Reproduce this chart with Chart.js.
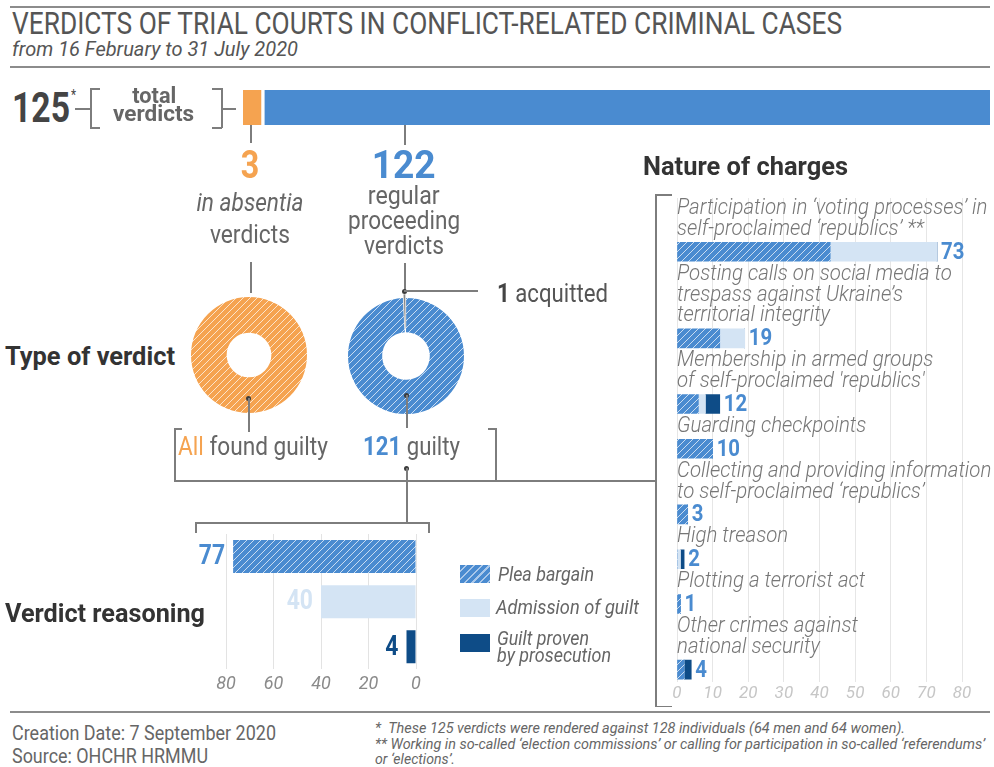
<!DOCTYPE html>
<html>
<head>
<meta charset="utf-8">
<script src="https://cdn.jsdelivr.net/npm/chart.js@4.4.1/dist/chart.umd.min.js"></script>
<style>
  html, body { margin: 0; padding: 0; background: #fff; }
  #page { position: relative; width: 994px; height: 767px; overflow: hidden; font-family: Roboto, sans-serif; }
  .tx { position: absolute; white-space: nowrap; line-height: 1; }
  .tx .in { display: inline-block; }
  .ln { position: absolute; background: #7d7d7d; }
  .rule { position: absolute; background: #8c8c8c; }
  .dot { position: absolute; width: 5px; height: 5px; border-radius: 50%; background: #3c3c3c; }
  .box { position: absolute; }
  .sw { position: absolute; width: 30px; height: 18px; }
</style>
</head>
<body>
<div id="page">
  <div class="box" style="left:243px;top:90px;width:747px;height:35px"><canvas id="totalChart"></canvas></div>
  <div class="box" style="left:179px;top:285px;width:140px;height:140px"><canvas id="absentiaChart"></canvas></div>
  <div class="box" style="left:336px;top:286px;width:140px;height:140px"><canvas id="regularChart"></canvas></div>
  <div class="box" style="left:190px;top:520px;width:250px;height:185px"><canvas id="reasonChart"></canvas></div>
  <div class="box" style="left:660px;top:185px;width:334px;height:525px"><canvas id="chargeChart"></canvas></div>
</div>
<script>
// ---- data ----
const verdictTypes = ['in absentia', 'regular proceeding'];
const verdictCounts = [3, 122];

const absentiaOutcome = [3];        // all found guilty
const regularOutcome = [121, 1];    // guilty, acquitted

const reasonLabels = ['Plea bargain', 'Admission of guilt', 'Guilt proven by prosecution'];
const reasonValues = [77, 40, 4];
const reasonTicks = [0, 20, 40, 60, 80];

const chargeLabels = [
    ['Participation in \u2018voting processes\u2019 in', 'self-proclaimed \u2018republics\u2019 **'],
    ['Posting calls on social media to', 'trespass against Ukraine\u2019s', 'territorial integrity'],
    ['Membership in armed groups', 'of self-proclaimed \'republics\''],
    ['Guarding checkpoints'],
    ['Collecting and providing information', 'to self-proclaimed \u2018republics\u2019'],
    ['High treason'],
    ['Plotting a terrorist act'],
    ['Other crimes against', 'national security']
];
const pleaByCharge = [43, 12, 6, 10, 3, 0, 1, 2];
const admissionByCharge = [30, 7, 2, 0, 0, 1, 0, 0];
const prosecutionByCharge = [0, 0, 4, 0, 0, 1, 0, 2];
const chargeTicks = [0, 10, 20, 30, 40, 50, 60, 70, 80];

// ---- colours ----
const BLUE = '#4a8bd0';
const ORANGE = '#f5a350';
const LIGHT = '#d4e4f4';
const DARK = '#0e4c87';

Chart.defaults.font.family = 'Roboto';

const page = document.getElementById('page');

// hatched fill like the original
function hatch(color, step) {
    const c = document.createElement('canvas');
    c.width = step; c.height = step;
    const g = c.getContext('2d');
    g.fillStyle = color;
    g.fillRect(0, 0, step, step);
    g.strokeStyle = 'rgba(255,255,255,0.7)';
    g.lineWidth = 1;
    g.beginPath();
    g.moveTo(-1, step + 1); g.lineTo(step + 1, -1);
    g.moveTo(-1, 1); g.lineTo(1, -1);
    g.moveTo(step - 1, step + 1); g.lineTo(step + 1, step - 1);
    g.stroke();
    return g.createPattern(c, 'repeat');
}
const bluePattern = hatch(BLUE, 7);
const orangePattern = hatch(ORANGE, 7);

// condensed canvas text
function squeeze(ctx, text, x, y, sx) {
    ctx.save();
    ctx.translate(x, y);
    ctx.scale(sx, 1);
    ctx.fillText(text, 0, 0);
    ctx.restore();
}

// html text, squeezed to a width
function put(html, x, base, size, opts = {}) {
    const d = document.createElement('div');
    d.className = 'tx';
    d.style.fontSize = size + 'px';
    d.style.top = (base - 0.84 * size) + 'px';
    d.style.color = opts.color || '#666';
    if (opts.weight) d.style.fontWeight = opts.weight;
    if (opts.italic) d.style.fontStyle = 'italic';
    const s = document.createElement('span');
    s.className = 'in';
    s.innerHTML = html;
    d.appendChild(s);
    const align = opts.align || 'left';
    if (align === 'center') {
        d.style.left = (x - 300) + 'px'; d.style.width = '600px'; d.style.textAlign = 'center';
        s.style.transformOrigin = '50% 0';
    } else if (align === 'right') {
        d.style.left = (x - 600) + 'px'; d.style.width = '600px'; d.style.textAlign = 'right';
        s.style.transformOrigin = '100% 0';
    } else {
        d.style.left = x + 'px';
        s.style.transformOrigin = '0 0';
    }
    page.appendChild(d);
    const sx = opts.w ? opts.w / s.getBoundingClientRect().width : (opts.sx || 0.84);
    s.style.transform = 'scaleX(' + sx + ')';
}

function line(x, y, w, h, cls) {
    const d = document.createElement('div');
    d.className = cls || 'ln';
    d.style.left = x + 'px'; d.style.top = y + 'px';
    d.style.width = w + 'px'; d.style.height = h + 'px';
    page.appendChild(d);
}
const hline = (x1, x2, y) => line(x1, y, x2 - x1, 1.5);
const vline = (x, y1, y2) => line(x, y1, 1.5, y2 - y1);
function dot(x, y) {
    const d = document.createElement('div');
    d.className = 'dot';
    d.style.left = (x - 2.5) + 'px'; d.style.top = (y - 2.5) + 'px';
    page.appendChild(d);
}

// ---- header & footer ----
line(10, 6, 980, 2, 'rule');
line(10, 66, 980, 2, 'rule');
line(10, 711, 980, 2, 'rule');
put('VERDICTS OF TRIAL COURTS IN CONFLICT-RELATED CRIMINAL CASES', 12, 34, 31, { color: '#555', w: 830 });
put('from 16 February to 31 July 2020', 12, 57, 21, { color: '#555', italic: true, w: 286 });

put('Creation Date: 7 September 2020', 12, 740, 20, { w: 264 });
put('Source: OHCHR HRMMU', 12, 763, 20, { w: 196 });
put('*&nbsp;&nbsp;These 125 verdicts were rendered against 128 individuals (64 men and 64 women).', 375, 734, 15, { italic: true, w: 530 });
put('** Working in so-called \u2018election commissions\u2019 or calling for participation in so-called \u2018referendums\u2019', 375, 750, 15, { italic: true, w: 610 });
put('or \u2018elections\u2019.', 375, 765, 15, { italic: true, w: 80 });

// ---- total verdicts ----
put('125', 12, 122, 42, { color: '#444', weight: 700, w: 58 });
put('*', 71, 100, 14, { color: '#444' });
hline(75, 90, 108);
vline(90, 88, 128); hline(90, 100, 88); hline(90, 100, 127);
vline(221, 88, 128); hline(212, 222, 88); hline(212, 222, 127);
hline(222, 236, 108);
put('total', 154, 103, 22, { color: '#666', weight: 700, align: 'center', w: 44 });
put('verdicts', 154, 121, 22, { color: '#666', weight: 700, align: 'center', w: 81 });

vline(250, 125, 143);
vline(404, 125, 145);
put(String(verdictCounts[0]), 250, 178, 38, { color: ORANGE, weight: 700, align: 'center', sx: 0.85 });
put('in absentia', 250, 211, 25, { italic: true, align: 'center', w: 107 });
put('verdicts', 250, 243, 25, { align: 'center', w: 80 });
put(String(verdictCounts[1]), 404, 178, 38, { color: BLUE, weight: 700, align: 'center', w: 64 });
put('regular', 404, 204, 25, { align: 'center', w: 72 });
put('proceeding', 404, 229, 25, { align: 'center', w: 112 });
put('verdicts', 404, 254, 25, { align: 'center', w: 80 });

// ---- type of verdict ----
put('Type of verdict', 5, 365, 26, { color: '#333', weight: 700, w: 170 });
vline(250, 262, 293);
vline(404, 263, 291);
dot(404, 291);
hline(404, 478, 290);
put('<b style="color:#444">1</b> acquitted', 497, 302, 25, { color: '#555', w: 111 });

dot(248, 398); vline(248, 398, 432);
dot(406, 395); vline(406, 395, 428);
put('<span style="color:' + ORANGE + '">All</span> found guilty', 178, 455, 26, { w: 150 });
put('<b style="color:' + BLUE + '">121</b> guilty', 363, 455, 26, { w: 97 });
vline(174, 428, 481); hline(174, 182, 428);
vline(495, 428, 481); hline(488, 496, 428);
hline(174, 656, 480);
dot(406, 468); vline(406, 468, 522);

// ---- verdict reasoning ----
put('Verdict reasoning', 5, 622, 26, { color: '#333', weight: 700, w: 200 });
hline(195, 429, 522);
vline(195, 522, 533); vline(428, 522, 533);

const swatches = ['repeating-linear-gradient(135deg, ' + BLUE + ' 0 4px, #aac8ea 4px 5.5px)', LIGHT, DARK];
[565, 599, 634].forEach((y, i) => {
    const s = document.createElement('div');
    s.className = 'sw';
    s.style.left = '460px'; s.style.top = y + 'px';
    s.style.background = swatches[i];
    page.appendChild(s);
});
put(reasonLabels[0], 498, 581, 20, { italic: true, w: 96 });
put(reasonLabels[1], 496, 614, 20, { italic: true, w: 143 });
put('Guilt proven', 497, 645, 20, { italic: true, w: 92 });
put('by prosecution', 497, 662, 20, { italic: true, w: 114 });

// ---- nature of charges ----
put('Nature of charges', 643, 175, 26, { color: '#333', weight: 700, w: 205 });
vline(655, 194, 707); hline(655, 672, 194); hline(655, 672, 705.5);

const noEvents = { responsive: true, maintainAspectRatio: false, animation: false, events: [] };

// top stacked bar
new Chart(document.getElementById('totalChart'), {
    type: 'bar',
    data: {
        labels: ['total verdicts'],
        datasets: [
            { label: verdictTypes[0], data: [verdictCounts[0]], backgroundColor: ORANGE, barPercentage: 1, categoryPercentage: 1 },
            {
                label: verdictTypes[1], data: [verdictCounts[1]], backgroundColor: BLUE,
                borderColor: '#fff', borderWidth: { left: 4, right: 0, top: 0, bottom: 0 }, borderSkipped: false,
                barPercentage: 1, categoryPercentage: 1
            }
        ]
    },
    options: {
        ...noEvents,
        indexAxis: 'y',
        plugins: { legend: { display: false }, tooltip: { enabled: false } },
        scales: {
            x: { stacked: true, display: false, min: 0, max: verdictCounts[0] + verdictCounts[1] },
            y: { stacked: true, display: false }
        }
    }
});

// donuts
new Chart(document.getElementById('absentiaChart'), {
    type: 'doughnut',
    data: { labels: ['guilty'], datasets: [{ data: absentiaOutcome, backgroundColor: [orangePattern], borderWidth: 0 }] },
    options: { ...noEvents, radius: 58, cutout: 27, plugins: { legend: { display: false }, tooltip: { enabled: false } } }
});
new Chart(document.getElementById('regularChart'), {
    type: 'doughnut',
    data: {
        labels: ['guilty', 'acquitted'],
        datasets: [{
            data: regularOutcome,
            backgroundColor: [bluePattern, '#878787'],
            borderColor: '#fff', borderWidth: [0, 0.6], offset: [0, 8]
        }]
    },
    options: { ...noEvents, radius: 58, cutout: 27, plugins: { legend: { display: false }, tooltip: { enabled: false } } }
});

// verdict reasoning bars
const reasonText = [BLUE, LIGHT, DARK];
new Chart(document.getElementById('reasonChart'), {
    type: 'bar',
    data: {
        labels: reasonLabels,
        datasets: [{ data: reasonValues, backgroundColor: [bluePattern, LIGHT, DARK], barPercentage: 0.73, categoryPercentage: 1 }]
    },
    options: {
        ...noEvents,
        indexAxis: 'y',
        layout: { padding: { left: 36, right: 24, top: 14, bottom: 6 } },
        plugins: { legend: { display: false }, tooltip: { enabled: false } },
        scales: {
            x: {
                reverse: true, min: reasonTicks[0], max: reasonTicks[reasonTicks.length - 1],
                afterBuildTicks: (s) => { s.ticks = reasonTicks.map(v => ({ value: v })); },
                grid: { color: '#e3e3e3', drawTicks: false },
                border: { display: false },
                ticks: { padding: 4, color: '#8a8a8a', font: { size: 18, style: 'italic' } }
            },
            y: { display: false }
        }
    },
    plugins: [{
        id: 'reasonValues',
        afterDatasetsDraw(chart) {
            const ctx = chart.ctx;
            ctx.save();
            ctx.font = 'bold 27px Roboto';
            ctx.textAlign = 'right';
            ctx.textBaseline = 'middle';
            chart.getDatasetMeta(0).data.forEach((bar, i) => {
                ctx.fillStyle = reasonText[i];
                squeeze(ctx, String(reasonValues[i]), Math.min(bar.x, bar.base) - 8, bar.y + 1, 0.85);
            });
            ctx.restore();
        }
    }]
});

// nature of charges: rows are spaced by how many label lines sit above each bar
const LINE = 21, BAR = 24;
const rowTop = [], barPos = [];
let acc = 0;
chargeLabels.forEach(lines => {
    rowTop.push(acc);
    barPos.push(acc + lines.length * LINE + BAR / 2);
    acc += lines.length * LINE + BAR;
});
const toPoints = vals => vals.map((v, i) => ({ x: v, y: barPos[i] }));

new Chart(document.getElementById('chargeChart'), {
    type: 'bar',
    data: {
        datasets: [
            { label: reasonLabels[0], data: toPoints(pleaByCharge), backgroundColor: bluePattern, barThickness: 19 },
            { label: reasonLabels[1], data: toPoints(admissionByCharge), backgroundColor: LIGHT, barThickness: 19 },
            { label: reasonLabels[2], data: toPoints(prosecutionByCharge), backgroundColor: DARK, barThickness: 19 }
        ]
    },
    options: {
        ...noEvents,
        indexAxis: 'y',
        layout: { padding: { left: 17, right: 32, top: 13, bottom: 4 } },
        plugins: { legend: { display: false }, tooltip: { enabled: false } },
        scales: {
            x: {
                stacked: true, min: chargeTicks[0], max: chargeTicks[chargeTicks.length - 1],
                afterBuildTicks: (s) => { s.ticks = chargeTicks.map(v => ({ value: v })); },
                grid: { color: '#e6e6e6', drawTicks: false },
                border: { display: false },
                ticks: { padding: 2, color: '#c6c6c6', font: { size: 17, style: 'italic' } }
            },
            y: { type: 'linear', stacked: true, display: false, offset: false, reverse: true, min: 0, max: acc }
        }
    },
    plugins: [{
        id: 'chargeText',
        afterDatasetsDraw(chart) {
            const { ctx, scales: { x, y } } = chart;
            ctx.save();
            ctx.textBaseline = 'middle';
            ctx.textAlign = 'left';
            chargeLabels.forEach((lines, i) => {
                ctx.font = 'italic 300 22px Roboto';
                ctx.fillStyle = '#767676';
                lines.forEach((t, k) => squeeze(ctx, t, x.left, y.getPixelForValue(rowTop[i] + (k + 0.5) * LINE), 0.93));
                const total = pleaByCharge[i] + admissionByCharge[i] + prosecutionByCharge[i];
                ctx.font = 'bold 24px Roboto';
                ctx.fillStyle = BLUE;
                squeeze(ctx, String(total), x.getPixelForValue(total) + 4, y.getPixelForValue(barPos[i]) + 1, 0.85);
            });
            ctx.restore();
        }
    }]
});
</script>
</body>
</html>
